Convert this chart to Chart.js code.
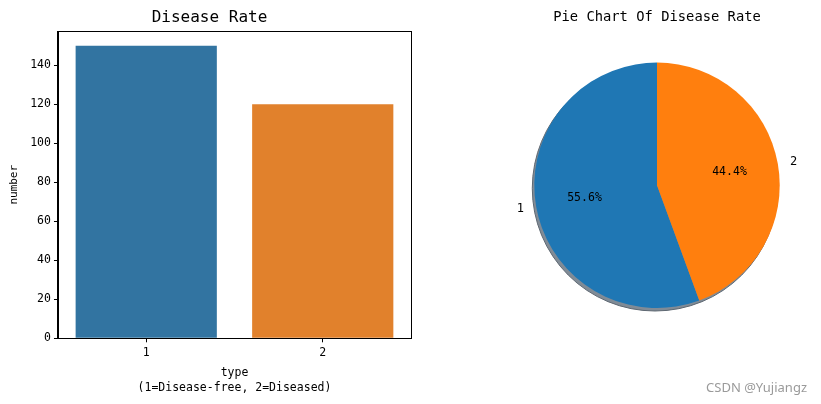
<!DOCTYPE html>
<html>
<head>
<meta charset="utf-8">
<script src="https://cdn.jsdelivr.net/npm/chart.js@4/dist/chart.umd.min.js"></script>
<style>
    body { margin: 0; background: #fff; width: 821px; height: 404px; position: relative; overflow: hidden; }
    #barChart { position: absolute; left: 0; top: 0; }
    #pieChart { position: absolute; left: 480px; top: 0; }
    #mark { position: absolute; right: 14px; top: 378px; font: 13px "Noto Sans", sans-serif; color: #9a9a9a; }
</style>
</head>
<body>
<canvas id="barChart" width="420" height="404"></canvas>
<canvas id="pieChart" width="341" height="404"></canvas>
<div id="mark">CSDN @Yujiangz</div>
<script>
const MONO = "'DejaVu Sans Mono', monospace";

const types = ["1", "2"];
const counts = [150, 120];
const yTicks = [0, 20, 40, 60, 80, 100, 120, 140];

const pieLabels = ["1", "2"];
const pieShares = [55.6, 44.4];

const barColors = ["#3274a1", "#e1812c"];
const pieColors = ["#1f77b4", "#ff7f0e"];

// box round the bar axes (top and right too)
const frame = {
    id: "frame",
    afterDraw(chart) {
        const a = chart.chartArea;
        const ctx = chart.ctx;
        ctx.save();
        ctx.strokeStyle = "#000";
        ctx.lineWidth = 1;
        ctx.strokeRect(Math.round(a.left) + 0.5, Math.round(a.top) + 0.5,
            Math.round(a.right - a.left), Math.round(a.bottom - a.top));
        ctx.restore();
    }
};

new Chart(document.getElementById("barChart"), {
    type: "bar",
    data: {
        labels: types,
        datasets: [{
            data: counts,
            backgroundColor: barColors,
            borderWidth: 0,
            barPercentage: 0.8,
            categoryPercentage: 1.0
        }]
    },
    options: {
        responsive: false,
        animation: false,
        layout: { padding: { left: 8, right: 9, top: 0, bottom: 9 } },
        plugins: {
            legend: { display: false },
            tooltip: { enabled: false },
            title: {
                display: true,
                text: "Disease Rate",
                color: "#000",
                font: { family: MONO, size: 16, weight: "normal" },
                padding: { top: 8, bottom: 4 }
            }
        },
        scales: {
            x: {
                grid: { drawOnChartArea: false, offset: false, color: "#000", tickLength: 4 },
                border: { color: "#000" },
                ticks: { color: "#000", font: { family: MONO, size: 11.5 }, padding: 4 },
                title: {
                    display: true,
                    text: ["type", "(1=Disease-free, 2=Diseased)"],
                    color: "#000",
                    font: { family: MONO, size: 11.5, lineHeight: 1.3 },
                    padding: { top: 1, bottom: 0 }
                }
            },
            y: {
                min: 0,
                max: 157.5,
                afterBuildTicks: axis => { axis.ticks = yTicks.map(v => ({ value: v })); },
                grid: { drawOnChartArea: false, color: "#000", tickLength: 4 },
                border: { color: "#000" },
                ticks: { color: "#000", font: { family: MONO, size: 11.5 }, padding: 3 },
                title: {
                    display: true,
                    text: "number",
                    color: "#000",
                    font: { family: MONO, size: 11 },
                    padding: { top: 0, bottom: 6 }
                }
            }
        }
    },
    plugins: [frame]
});

// grey drop shadow under the pie
const pieShadow = {
    id: "pieShadow",
    beforeDatasetsDraw(chart) {
        const arc = chart.getDatasetMeta(0).data[0];
        if (!arc) return;
        const p = arc.getProps(["x", "y", "outerRadius"], true);
        const ctx = chart.ctx;
        ctx.save();
        ctx.beginPath();
        ctx.arc(p.x - 2, p.y + 3, p.outerRadius, 0, Math.PI * 2);
        ctx.fillStyle = "#808b96";
        ctx.fill();
        ctx.strokeStyle = "#5e6872";
        ctx.lineWidth = 1;
        ctx.stroke();
        ctx.restore();
    }
};

// percent text inside, category label outside, like matplotlib autopct
const pieText = {
    id: "pieText",
    afterDatasetsDraw(chart) {
        const ctx = chart.ctx;
        ctx.save();
        ctx.fillStyle = "#000";
        ctx.textBaseline = "middle";
        chart.getDatasetMeta(0).data.forEach((arc, i) => {
            const p = arc.getProps(["x", "y", "startAngle", "endAngle", "outerRadius"], true);
            const mid = (p.startAngle + p.endAngle) / 2;
            const cx = Math.cos(mid), cy = Math.sin(mid);
            ctx.font = "11.5px " + MONO;
            ctx.textAlign = "center";
            ctx.fillText(pieShares[i].toFixed(1) + "%", p.x + cx * p.outerRadius * 0.6, p.y + cy * p.outerRadius * 0.6);
            ctx.font = "12px " + MONO;
            ctx.textAlign = cx > 0 ? "left" : "right";
            ctx.fillText(pieLabels[i], p.x + cx * p.outerRadius * 1.1, p.y + cy * p.outerRadius * 1.1);
        });
        ctx.restore();
    }
};

new Chart(document.getElementById("pieChart"), {
    type: "pie",
    data: {
        labels: pieLabels,
        datasets: [{
            data: pieShares,
            backgroundColor: pieColors,
            borderWidth: 0
        }]
    },
    options: {
        responsive: false,
        animation: false,
        // first slice ends at 12 o'clock, so it runs counter-clockwise from the top like matplotlib
        rotation: pieShares[1] / 100 * 360,
        layout: { padding: { left: 54, right: 41, top: 0, bottom: 96 } },
        plugins: {
            legend: { display: false },
            tooltip: { enabled: false },
            title: {
                display: true,
                text: "Pie Chart Of Disease Rate",
                color: "#000",
                font: { family: MONO, size: 13.8, weight: "normal" },
                padding: { top: 9, bottom: 37 }
            }
        }
    },
    plugins: [pieShadow, pieText]
});
</script>
</body>
</html>
